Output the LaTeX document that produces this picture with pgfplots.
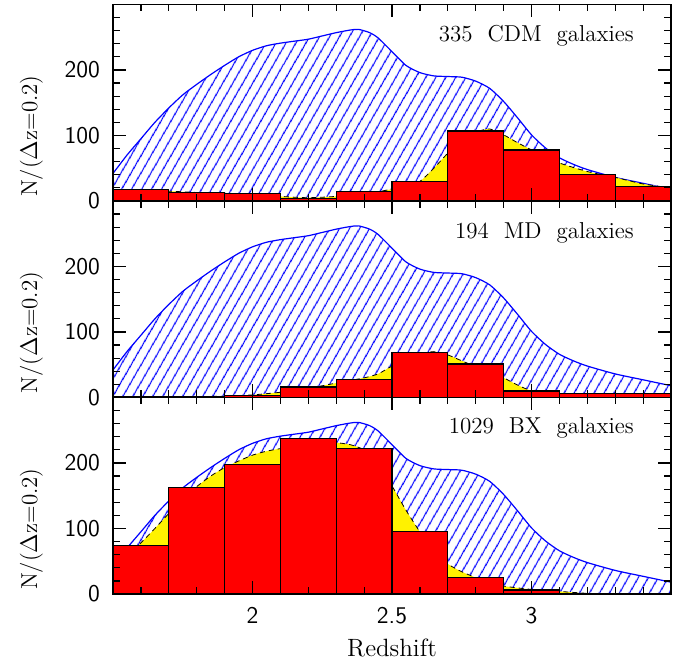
\documentclass[border=0pt]{standalone}
\usepackage{pgfplots}
\usepackage{pgfplotstable}
\pgfplotsset{compat=1.18}
\usetikzlibrary{patterns.meta}

\pgfplotstableread{
x y
1.50 42
1.55 70
1.60 95
1.65 120
1.70 142
1.75 162
1.80 178
1.85 193
1.90 207
1.95 220
2.00 230
2.05 237
2.10 241
2.15 244
2.20 247
2.25 252
2.30 257
2.35 261
2.38 262
2.42 257
2.45 249
2.50 228
2.55 207
2.60 196
2.65 191
2.70 190
2.75 189
2.80 183
2.85 172
2.90 152
2.95 127
3.00 101
3.05 81
3.10 66
3.15 56
3.20 48
3.30 36
3.40 27
3.50 18
}\blue

\pgfplotstableread{
x y
1.50 16
1.60 16
1.70 15
1.80 13
1.90 12
2.00 10
2.10 7
2.20 5
2.30 7
2.40 11
2.50 18
2.55 23
2.60 30
2.65 50
2.70 73
2.75 92
2.80 105
2.85 110
2.90 101
2.95 89
3.00 78
3.05 68
3.10 58
3.20 45
3.30 36
3.40 26
3.50 20
}\yelCDM

\pgfplotstableread{
x y
1.6 18
1.8 13
2.0 12
2.2 4
2.4 14
2.6 30
2.8 107
3.0 78
3.2 40
3.4 22
}\redCDM

\pgfplotstableread{
x y
1.50 0
1.70 1
1.90 2
2.00 4
2.10 8
2.20 14
2.30 22
2.40 30
2.45 36
2.50 48
2.55 58
2.60 66
2.65 70
2.70 65
2.75 56
2.80 47
2.85 38
2.90 30
2.95 19
3.00 10
3.05 7
3.10 6
3.20 5
3.50 5
}\yelMD

\pgfplotstableread{
x y
1.6 1
1.8 1
2.0 3
2.2 16
2.4 28
2.6 69
2.8 51
3.0 10
3.2 6
3.4 6
}\redMD

\pgfplotstableread{
x y
1.50 40
1.55 58
1.60 78
1.65 100
1.70 123
1.75 146
1.80 164
1.85 180
1.90 193
1.95 203
2.00 212
2.05 218
2.10 222
2.15 226
2.20 229
2.25 231
2.30 231
2.35 228
2.40 220
2.45 200
2.50 165
2.55 128
2.60 95
2.65 68
2.70 46
2.75 34
2.80 25
2.85 17
2.90 12
3.00 7
3.10 4
3.20 1
3.30 0
3.50 0
}\yelBX

\pgfplotstableread{
x y
1.6 74
1.8 163
2.0 198
2.2 237
2.4 222
2.6 95
2.8 25
3.0 6
3.2 1
3.4 0
}\redBX

\tikzset{labfont/.style={font=\fontsize{11.5}{13}\selectfont, inner sep=0pt}}

\pgfplotsset{
  panel/.style={
    scale only axis, width=279pt, height=98.25pt,
    xmin=1.5, xmax=3.5, ymin=0, ymax=300,
    clip mode=individual,
    axis on top, tick align=inside, tick pos=both,
    xtick={2,2.5,3},
    minor xtick={1.6,1.7,1.8,1.9,2.1,2.2,2.3,2.4,2.6,2.7,2.8,2.9,3.1,3.2,3.3,3.4},
    ytick={0,100,200},
    minor ytick={20,40,60,80,120,140,160,180,220,240,260,280},
    major tick length=6.5pt, minor tick length=3.5pt,
    every tick/.style={black, line width=0.6pt},
    axis line style={line width=0.8pt},
    ticklabel style={font=\sffamily\fontsize{12}{13}\selectfont},
    /pgf/number format/assume math mode=true,
    yticklabel style={xshift=-3pt},
    xticklabel style={yshift=-3pt},
    anchor=south west,
  },
  bluearea/.style={draw=blue, line width=0.6pt, smooth, tension=0.4,
    pattern={Lines[angle=60,distance=4pt,line width=0.6pt]}, pattern color=blue},
  yelarea/.style={fill=yellow, draw=black, line width=0.4pt,
    dash pattern=on 2.5pt off 2pt, smooth, tension=0.4},
  redbars/.style={ybar, bar width=0.2, bar shift=0pt, fill=red, draw=black, line width=0.6pt},
}

\begin{document}
\begin{tikzpicture}
\path[use as bounding box] (0,0) rectangle (345pt,332pt);

% top panel
\begin{axis}[panel, at={(56.5pt,231.5pt)}, xticklabels={}]
\addplot[bluearea] table {\blue} \closedcycle;
\addplot[yelarea] table {\yelCDM} \closedcycle;
\addplot[redbars] table {\redCDM};
\node[labfont, anchor=base east] at (rel axis cs:0.934,0.81) {335\ \ CDM\ \ galaxies};
\node[labfont, rotate=90, anchor=base] at (rel axis cs:-0.136,0.33) {N/($\Delta$z=0.2)};
\end{axis}

% middle panel
\begin{axis}[panel, at={(56.5pt,133.25pt)}, xticklabels={}]
\addplot[bluearea] table {\blue} \closedcycle;
\addplot[yelarea] table {\yelMD} \closedcycle;
\addplot[redbars] table {\redMD};
\node[labfont, anchor=base east] at (rel axis cs:0.934,0.81) {194\ \ MD\ \ galaxies};
\node[labfont, rotate=90, anchor=base] at (rel axis cs:-0.136,0.33) {N/($\Delta$z=0.2)};
\end{axis}

% bottom panel
\begin{axis}[panel, at={(56.5pt,35pt)}]
\addplot[bluearea] table {\blue} \closedcycle;
\addplot[yelarea] table {\yelBX} \closedcycle;
\addplot[redbars] table {\redBX};
\node[labfont, anchor=base east] at (rel axis cs:0.934,0.815) {1029\ \ BX\ \ galaxies};
\node[labfont, rotate=90, anchor=base] at (rel axis cs:-0.136,0.33) {N/($\Delta$z=0.2)};
\node[font=\fontsize{12.5}{14}\selectfont, inner sep=0pt, anchor=base, yshift=-31pt] at (rel axis cs:0.5,0) {Redshift};
\end{axis}
\end{tikzpicture}
\end{document}
